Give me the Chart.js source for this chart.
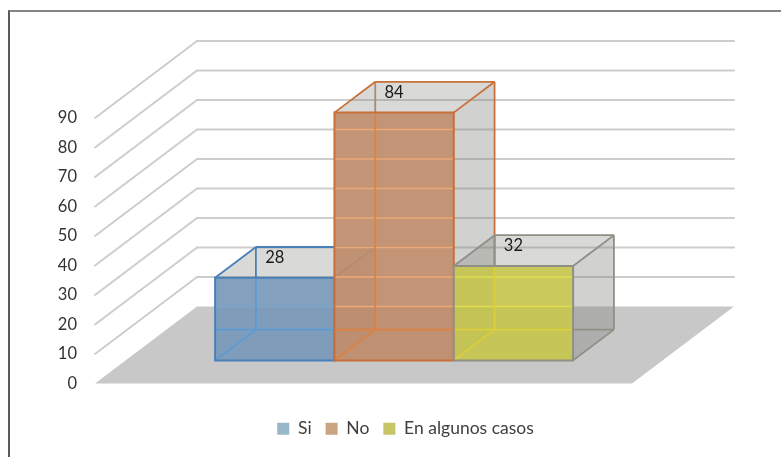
<!DOCTYPE html>
<html>
<head>
<meta charset="utf-8">
<script src="https://cdn.jsdelivr.net/npm/chart.js@4"></script>
<style>
  html, body { margin: 0; background: #fff; }
  #wrap { position: relative; width: 781px; height: 457px; overflow: hidden; }
  #frame { position: absolute; left: 8px; top: 10px; right: -4px; bottom: -4px;
           border-left: 2px solid #5a5a5a; border-top: 2px solid #858585; }
  canvas { display: block; filter: blur(0.4px); }
</style>
</head>
<body>
<div id="wrap">
  <canvas id="chart" width="781" height="457"></canvas>
  <div id="frame"></div>
</div>
<script>
const categories = [''];
const seriesNames = ['Si', 'No', 'En algunos casos'];
const siValues = [28];
const noValues = [84];
const casosValues = [32];
const yTickLabels = ['0', '10', '20', '30', '40', '50', '60', '70', '80', '90'];

const frontColors = ['rgba(120,152,184,0.92)', 'rgba(190,140,106,0.92)', 'rgba(198,198,78,0.92)'];
const legendColors = ['#98b8ca', '#c9a582', '#c6c666'];
const frontEdges = ['#4a80b8', '#c8703a', '#8f8f86'];
const backEdges = ['#4a80b8', '#a88a78', '#8f8f86'];
const innerEdges = ['#5b9bd5', '#e08040', '#dccf3c'];
const gridTints = ['#7ea4cc', '#eda878', '#e2dc50'];
const sideEdges = ['#4a80b8', '#c8703a', '#8f8f86'];

// depth of the 3d box, the bars sit between 30% and 70% of it
const DEPTH_X = 102;
const DEPTH_Y = -77;
const BAR_NEAR = 0.3;
const BAR_FAR = 0.7;

function poly(ctx, pts, fill, stroke, width) {
  ctx.beginPath();
  pts.forEach((p, i) => (i ? ctx.lineTo(p[0], p[1]) : ctx.moveTo(p[0], p[1])));
  ctx.closePath();
  if (fill) { ctx.fillStyle = fill; ctx.fill(); }
  if (stroke) { ctx.strokeStyle = stroke; ctx.lineWidth = width || 1.5; ctx.stroke(); }
}

function line(ctx, a, b, color, width) {
  ctx.beginPath();
  ctx.moveTo(a[0], a[1]);
  ctx.lineTo(b[0], b[1]);
  ctx.strokeStyle = color;
  ctx.lineWidth = width || 1.8;
  ctx.stroke();
}

const box3d = {
  id: 'box3d',
  afterLayout(chart) {
    const legend = chart.legend;
    legend.left = 30;
    legend.right = 781;
    legend.top = 406;
    legend.bottom = 457;
  },
  beforeDatasetsDraw(chart) {
    const { ctx, scales: { x, y } } = chart;
    const left = x.left, right = x.right;
    const zero = y.getPixelForValue(0);

    // floor
    poly(ctx, [[left, zero], [left + DEPTH_X, zero + DEPTH_Y], [right + DEPTH_X, zero + DEPTH_Y], [right, zero]], '#c8c8c8');

    // side and back wall grid
    y.ticks.forEach(t => {
      if (t.value === 0) return;
      const py = y.getPixelForValue(t.value);
      ctx.lineCap = 'round';
      line(ctx, [left, py], [left + DEPTH_X, py + DEPTH_Y], '#cdcdcd', 2);
      line(ctx, [left + DEPTH_X, py + DEPTH_Y], [right + DEPTH_X, py + DEPTH_Y], '#cdcdcd', 2);
      ctx.lineCap = 'butt';
    });

    chart.data.datasets.forEach((ds, i) => {
      const bar = chart.getDatasetMeta(i).data[0];
      const nx = DEPTH_X * BAR_NEAR, ny = DEPTH_Y * BAR_NEAR;
      const fx = DEPTH_X * BAR_FAR, fy = DEPTH_Y * BAR_FAR;
      const x0 = bar.x - bar.width / 2 + nx, x1 = bar.x + bar.width / 2 + nx;
      const top = bar.y + ny, base = bar.base + ny;
      const ddx = fx - nx, ddy = fy - ny;

      // top and right faces
      poly(ctx, [[x0, top], [x0 + ddx, top + ddy], [x1 + ddx, top + ddy], [x1, top]], 'rgba(128,128,124,0.3)');
      poly(ctx, [[x1, top], [x1 + ddx, top + ddy], [x1 + ddx, base + ddy], [x1, base]], 'rgba(128,128,124,0.36)');

      // back edges seen above and beside the front face
      line(ctx, [x0 + ddx, top + ddy], [x0 + ddx, top], backEdges[i]);
      line(ctx, [x0, top], [x0 + ddx, top + ddy], sideEdges[i]);
      line(ctx, [x0 + ddx, top + ddy], [x1 + ddx, top + ddy], sideEdges[i]);
      line(ctx, [x1, top], [x1 + ddx, top + ddy], sideEdges[i]);
      line(ctx, [x1 + ddx, top + ddy], [x1 + ddx, base + ddy], sideEdges[i]);
      line(ctx, [x1, base], [x1 + ddx, base + ddy], sideEdges[i]);
      line(ctx, [x1, base + ddy], [x1 + ddx, base + ddy], sideEdges[i]);

      // front face, wall grid shows through it
      poly(ctx, [[x0, top], [x1, top], [x1, base], [x0, base]], frontColors[i]);
      y.ticks.forEach(t => {
        const py = y.getPixelForValue(t.value) + DEPTH_Y;
        if (py > top + 1 && py < base - 1) line(ctx, [x0, py], [x1, py], gridTints[i], 1.5);
      });

      // hidden edges through the front face
      line(ctx, [x0 + ddx, top], [x0 + ddx, base + ddy], innerEdges[i]);
      line(ctx, [x0, base + ddy], [x1, base + ddy], innerEdges[i]);
      line(ctx, [x0, base], [x0 + ddx, base + ddy], innerEdges[i]);

      poly(ctx, [[x0, top], [x1, top], [x1, base], [x0, base]], null, frontEdges[i], 2);

      // value label, centred on the front face, above its top edge
      ctx.fillStyle = '#1a1a1a';
      ctx.font = '16.5px Lato';
      ctx.textAlign = 'center';
      ctx.textBaseline = 'middle';
      ctx.fillText(String(ds.data[0]), bar.x + nx, top - 20);
    });
    return false;
  }
};

new Chart(document.getElementById('chart'), {
  type: 'bar',
  data: {
    labels: categories,
    datasets: [
      { label: seriesNames[0], data: siValues, backgroundColor: legendColors[0] },
      { label: seriesNames[1], data: noValues, backgroundColor: legendColors[1] },
      { label: seriesNames[2], data: casosValues, backgroundColor: legendColors[2] },
    ],
  },
  options: {
    responsive: false,
    animation: false,
    categoryPercentage: 2 / 3,
    barPercentage: 1,
    layout: { autoPadding: false, padding: { left: 30, right: 149, top: 118, bottom: 24 } },
    plugins: {
      tooltip: { enabled: false },
      legend: {
        position: 'bottom',
        labels: {
          color: '#404040',
          font: { family: 'Lato', size: 17.5 },
          boxWidth: 12,
          boxHeight: 12,
          padding: 14,
        },
      },
    },
    scales: {
      x: {
        grid: { display: false },
        border: { display: false },
        ticks: { display: false },
      },
      y: {
        min: 0,
        max: 90,
        afterFit: s => { s.width = 65; },
        grid: { display: false },
        border: { display: false },
        afterTickToLabelConversion: s => {
          s.ticks.forEach((t, i) => { t.label = yTickLabels[i]; });
        },
        ticks: {
          stepSize: 10,
          padding: 10,
          color: '#333333',
          font: { family: 'Lato', size: 16.5 },
        },
      },
    },
  },
  plugins: [box3d],
});
</script>
</body>
</html>
